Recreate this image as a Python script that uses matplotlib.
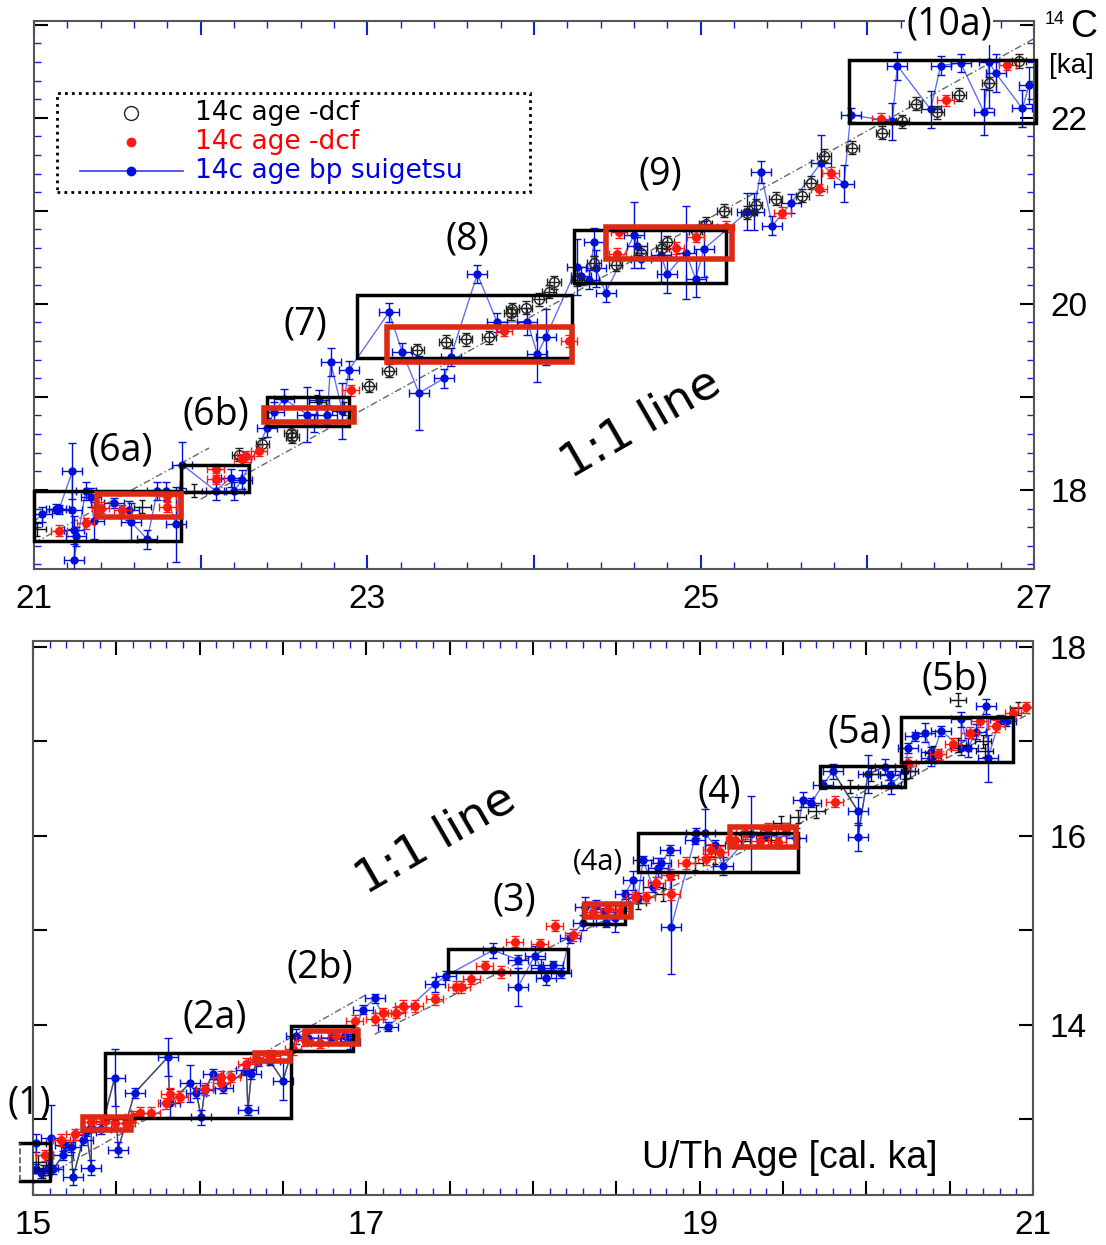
import matplotlib
matplotlib.use('Agg')
import matplotlib.pyplot as plt
from matplotlib.patches import Rectangle
from matplotlib.lines import Line2D
from matplotlib.ticker import MultipleLocator, FuncFormatter

plt.rcParams['font.family'] = ['Liberation Sans', 'DejaVu Sans']

# ---------------- top panel data (21-27 ka) ----------------
top_blue_x = [20.99, 21.05, 21.13, 21.15, 21.23, 21.23, 21.24, 21.25, 21.24, 21.31, 21.34, 21.36,
              21.48, 21.57, 21.58, 21.68, 21.74, 21.79, 21.85, 21.89, 22.09, 22.18, 22.20, 22.25,
              22.40, 22.44, 22.50, 22.64, 22.68, 22.71, 22.76, 22.78, 22.85, 22.89, 23.13, 23.21,
              23.31, 23.46, 23.50, 23.66, 23.78, 23.96, 24.02, 24.07, 24.26, 24.28, 24.33, 24.36,
              24.37, 24.43, 24.60, 24.62, 24.64, 24.76, 24.80, 24.91, 24.97, 25.02, 25.28, 25.32,
              25.36, 25.43, 25.54, 25.72, 25.86, 25.90, 26.15, 26.18, 26.38, 26.44, 26.56, 26.70,
              26.73, 26.77, 26.93, 26.97]
top_blue_y = [17.64, 17.74, 17.80, 17.79, 18.20, 17.78, 17.57, 17.50, 17.25, 17.99, 17.92, 17.67,
              17.86, 17.78, 17.66, 17.47, 17.99, 17.99, 17.63, 18.27, 17.99, 18.13, 17.99, 18.11,
              18.67, 18.84, 18.98, 18.81, 18.72, 18.97, 18.81, 19.37, 18.85, 19.29, 19.91, 19.48,
              19.04, 19.20, 19.43, 20.32, 19.80, 19.81, 19.46, 19.64, 20.40, 20.30, 20.26, 20.66,
              20.38, 20.12, 20.74, 20.62, 20.48, 20.53, 20.32, 20.55, 20.27, 20.59, 20.99, 20.99,
              21.42, 20.84, 21.08, 21.51, 21.29, 22.03, 21.96, 22.56, 22.09, 22.56, 22.59, 22.06,
              22.60, 22.48, 22.10, 22.35]
top_blue_yerr = [0.05, 0.08, 0.05, 0.05, 0.30, 0.20, 0.15, 0.10, 0.20, 0.10, 0.10, 0.20,
                 0.05, 0.10, 0.20, 0.10, 0.10, 0.10, 0.40, 0.25, 0.10, 0.10, 0.10, 0.10,
                 0.10, 0.10, 0.10, 0.30, 0.10, 0.10, 0.10, 0.15, 0.30, 0.10, 0.10, 0.10,
                 0.40, 0.10, 0.10, 0.10, 0.10, 0.15, 0.30, 0.30, 0.30, 0.10, 0.10, 0.15,
                 0.20, 0.10, 0.35, 0.10, 0.10, 0.30, 0.20, 0.50, 0.20, 0.30, 0.20, 0.20,
                 0.12, 0.10, 0.10, 0.30, 0.20, 0.08, 0.20, 0.15, 0.20, 0.10, 0.10, 0.25,
                 0.50, 0.20, 0.20, 0.20]

top_open_x = [22.23, 22.37, 22.54, 22.55, 23.01, 23.13, 23.30, 23.47, 23.59, 23.73, 23.86, 23.87,
              23.95, 24.03, 24.09, 24.12, 24.26, 24.36, 24.49, 24.64, 24.77, 24.80, 24.97, 25.03,
              25.14, 25.28, 25.33, 25.45, 25.61, 25.66, 25.74, 25.91, 26.09, 26.21, 26.29, 26.42,
              26.55, 26.73, 26.91]
top_open_y = [18.38, 18.49, 18.61, 18.57, 19.12, 19.28, 19.50, 19.59, 19.62, 19.64, 19.90, 19.94,
              19.96, 20.05, 20.13, 20.23, 20.26, 20.44, 20.42, 20.55, 20.60, 20.66, 20.78, 20.86,
              21.00, 20.98, 21.06, 21.13, 21.16, 21.30, 21.59, 21.68, 21.84, 21.96, 22.15, 22.06,
              22.25, 22.37, 22.61]
top_cross_x = [21.02, 21.65, 21.96, 22.70, 22.86]
top_cross_y = [17.58, 17.82, 17.99, 18.95, 18.87]

top_red_x = [21.15, 21.31, 21.40, 21.53, 21.80, 21.80, 22.09, 22.09, 22.25, 22.27, 22.35, 22.90,
             23.82, 24.21, 24.50, 24.51, 24.85, 24.97, 25.15, 25.49, 25.71, 25.78, 26.08, 26.47,
             26.84]
top_red_y = [17.56, 17.64, 17.81, 17.78, 17.82, 17.93, 18.22, 18.12, 18.33, 18.36, 18.42, 19.07,
             19.71, 19.60, 20.54, 20.77, 20.60, 20.72, 20.83, 20.98, 21.23, 21.41, 21.99, 22.19,
             22.57]

# boxes: (x0, x1, y0, y1)
top_black_boxes = [(21.00, 21.88, 17.45, 17.99), (21.88, 22.29, 17.98, 18.27),
                   (22.40, 22.89, 18.69, 19.00), (22.94, 24.23, 19.42, 20.09),
                   (24.24, 25.15, 20.22, 20.79), (25.89, 27.01, 21.94, 22.62)]
top_red_boxes = [(21.38, 21.88, 17.71, 17.96), (22.38, 22.92, 18.73, 18.88),
                 (23.12, 24.23, 19.38, 19.75), (24.43, 25.19, 20.48, 20.83)]
top_lines = [((21.00, 22.05), (17.43, 18.45)), ((22.00, 27.00), (17.90, 22.85))]
top_labels = ['(6a)', '(6b)', '(7)', '(8)', '(9)', '(10a)']
top_label_xy = [(21.52, 18.42), (22.09, 18.81), (22.63, 19.78), (23.60, 20.69), (24.76, 21.39),
                (26.49, 23.00)]

# ---------------- bottom panel data (15-21 ka) ----------------
bot_blue_x = [15.02, 15.02, 15.05, 15.09, 15.11, 15.12, 15.18, 15.19, 15.23, 15.24, 15.30, 15.32,
              15.35, 15.35, 15.41, 15.49, 15.51, 15.61, 15.81, 15.82, 15.94, 15.98, 16.01, 16.03,
              16.08, 16.14, 16.28, 16.29, 16.31, 16.35, 16.42, 16.50, 16.58, 16.65, 16.79, 16.87,
              16.90, 16.98, 17.05, 17.13, 17.41, 17.48, 17.76, 17.91, 17.91, 18.01, 18.05, 18.08,
              18.12, 18.17, 18.22, 18.30, 18.31, 18.38, 18.43, 18.44, 18.49, 18.55, 18.60, 18.63,
              18.66, 18.72, 18.75, 18.77, 18.82, 18.83, 18.97, 18.98, 19.03, 19.09, 19.14, 19.31,
              19.40, 19.58, 19.62, 19.67, 19.74, 19.80, 19.95, 19.95, 20.01, 20.11, 20.14, 20.15,
              20.23, 20.25, 20.29, 20.35, 20.39, 20.39, 20.45, 20.57, 20.57, 20.61, 20.66, 20.72,
              20.73, 20.80, 20.84]
bot_blue_y = [12.75, 12.48, 12.43, 12.49, 12.80, 12.47, 12.62, 12.73, 12.71, 12.39, 12.78, 12.87,
              12.49, 12.92, 12.90, 13.44, 12.68, 13.28, 13.66, 13.17, 13.38, 13.28, 13.02, 13.31,
              13.48, 13.33, 13.52, 13.10, 13.48, 13.61, 13.62, 13.41, 13.88, 13.86, 13.86, 13.88,
              13.82, 14.16, 14.28, 13.98, 14.43, 14.52, 14.79, 14.69, 14.40, 14.73, 14.60, 14.50,
              14.63, 14.55, 14.92, 15.08, 15.25, 15.27, 15.19, 15.08, 15.13, 15.38, 15.53, 15.34,
              15.74, 15.46, 15.66, 15.71, 15.85, 15.04, 15.96, 16.03, 16.03, 15.90, 15.68, 16.02,
              16.01, 15.98, 16.38, 16.35, 16.54, 16.68, 16.26, 15.99, 16.65, 16.73, 16.64, 16.54,
              16.68, 16.93, 17.05, 17.09, 16.89, 16.82, 17.11, 16.93, 17.23, 16.93, 17.10, 17.37,
              16.82, 17.23, 17.21]
bot_blue_yerr = [0.10, 0.05, 0.05, 0.08, 0.35, 0.05, 0.05, 0.05, 0.05, 0.08, 0.05, 0.05,
                 0.08, 0.05, 0.05, 0.30, 0.08, 0.05, 0.20, 0.15, 0.20, 0.05, 0.08, 0.05,
                 0.05, 0.05, 0.05, 0.05, 0.05, 0.05, 0.05, 0.20, 0.08, 0.05, 0.05, 0.05,
                 0.08, 0.05, 0.05, 0.05, 0.08, 0.05, 0.08, 0.05, 0.20, 0.10, 0.10, 0.08,
                 0.05, 0.05, 0.05, 0.08, 0.10, 0.05, 0.05, 0.05, 0.15, 0.05, 0.10, 0.05,
                 0.05, 0.05, 0.10, 0.05, 0.05, 0.50, 0.05, 0.05, 0.25, 0.05, 0.10, 0.40,
                 0.05, 0.10, 0.08, 0.05, 0.05, 0.08, 0.15, 0.15, 0.20, 0.08, 0.05, 0.10,
                 0.08, 0.05, 0.05, 0.10, 0.05, 0.08, 0.05, 0.08, 0.08, 0.10, 0.08, 0.08,
                 0.25, 0.05, 0.05]

bot_cross_x = [15.03, 15.06, 18.63, 18.78, 18.97, 19.09, 19.25, 19.43, 19.49, 19.59, 19.70, 19.90,
               20.03, 20.26, 20.40, 20.55, 20.55, 20.70, 20.71, 20.91]
bot_cross_y = [12.55, 12.45, 15.29, 15.38, 15.71, 15.77, 15.94, 15.96, 16.14, 16.20, 16.26, 16.52,
               16.65, 16.68, 16.88, 16.96, 17.44, 17.00, 16.90, 17.35]

bot_red_x = [15.07, 15.17, 15.25, 15.35, 15.43, 15.49, 15.56, 15.60, 15.64, 15.71, 15.80, 15.82,
             15.88, 16.03, 16.13, 16.13, 16.19, 16.28, 16.35, 16.43, 16.56, 16.63, 16.72, 16.82,
             16.93, 17.05, 17.10, 17.18, 17.22, 17.29, 17.41, 17.54, 17.57, 17.63, 17.71, 17.81,
             17.89, 18.04, 18.13, 18.24, 18.36, 18.45, 18.53, 18.61, 18.68, 18.74, 18.82, 18.83,
             18.92, 19.04, 19.07, 19.12, 19.21, 19.27, 19.36, 19.41, 19.47, 19.52, 19.81, 20.25,
             20.43, 20.52, 20.62, 20.68, 20.78, 20.88, 20.96]
bot_red_y = [12.62, 12.78, 12.84, 12.97, 12.98, 12.96, 12.96, 13.03, 13.07, 13.07, 13.17, 13.27,
             13.24, 13.32, 13.45, 13.38, 13.45, 13.59, 13.63, 13.67, 13.74, 13.84, 13.81, 13.88,
             14.04, 14.06, 14.12, 14.13, 14.20, 14.20, 14.27, 14.40, 14.40, 14.49, 14.62, 14.56,
             14.88, 14.85, 15.05, 14.95, 15.19, 15.22, 15.20, 15.35, 15.35, 15.50, 15.59, 15.38,
             15.71, 15.75, 15.85, 15.83, 15.96, 16.03, 15.94, 16.07, 15.93, 16.07, 16.36, 16.77,
             16.86, 16.97, 17.09, 17.21, 17.16, 17.30, 17.36]

bot_black_boxes = [(15.43, 16.55, 13.01, 13.70),
                   (16.55, 16.92, 13.72, 13.99), (17.49, 18.21, 14.56, 14.80),
                   (18.30, 18.55, 15.07, 15.28), (18.63, 19.59, 15.62, 16.03),
                   (19.72, 20.23, 16.52, 16.74), (20.21, 20.88, 16.78, 17.26)]
bot_open_box = (14.92, 15.10, 12.35, 12.75)   # box (1), left side dashed
bot_red_boxes = [(15.30, 15.59, 12.89, 13.03), (16.33, 16.54, 13.62, 13.70),
                 (16.63, 16.95, 13.80, 13.93), (18.31, 18.59, 15.14, 15.28),
                 (19.18, 19.58, 15.88, 16.09)]
bot_lines = [((15.00, 17.00), (12.32, 14.32)), ((17.05, 21.05), (13.90, 17.40)),
             ((20.04, 21.05), (16.40, 17.36))]
bot_labels = ['(1)', '(2a)', '(2b)', '(3)', '(4a)', '(4)', '(5a)', '(5b)']
bot_label_xy = [(14.98, 13.17), (16.09, 14.08), (16.72, 14.61), (17.89, 15.32), (18.39, 15.72),
                (19.12, 16.46), (19.96, 17.09), (20.53, 17.65)]

legend_labels = ['14c age -dcf', '14c age -dcf', '14c age bp suigetsu']

BLUE = '#0010d8'
RED = '#ff1a10'
BOXRED = '#dd2a14'
W, H = 1106, 1245
LABEL_FONT = ['Open Sans', 'DejaVu Sans']

fig = plt.figure(figsize=(W / 100, H / 100), dpi=100)


def px_rect(l, t, r, b):
    return [l / W, 1 - b / H, (r - l) / W, (b - t) / H]


def draw_panel(ax, bx, by, byerr, ox, oy, cx, cy, rx, ry, gray_ranges):
    # blue connected series
    ax.plot(bx, by, '-', color='#3040f0', lw=1.0, alpha=0.75, zorder=3)
    for lo, hi in gray_ranges:
        sx = [x for x in bx if lo <= x <= hi]
        sy = [y for x, y in zip(bx, by) if lo <= x <= hi]
        ax.plot(sx, sy, '-', color='#444444', lw=1.0, alpha=0.85, zorder=3)
    ax.errorbar(bx, by, xerr=0.06, yerr=byerr, fmt='o', ms=5, color=BLUE, ecolor=BLUE,
                elinewidth=1, capsize=3, zorder=4)
    if ox:
        ax.errorbar(ox, oy, xerr=0.04, yerr=0.07, fmt='o', ms=7, mfc='none', mec='#222222',
                    ecolor='#222222', elinewidth=1, capsize=3, zorder=5)
    ax.errorbar(cx, cy, xerr=0.05, yerr=0.07, fmt='none', ecolor='#111111', elinewidth=1,
                capsize=2.5, zorder=5)
    ax.errorbar(rx, ry, xerr=0.05, yerr=0.06, fmt='o', ms=5.5, color=RED, ecolor=RED,
                elinewidth=1, capsize=3, zorder=5)


def draw_boxes(ax, black, red):
    for x0, x1, y0, y1 in black:
        ax.add_patch(Rectangle((x0, y0), x1 - x0, y1 - y0, fill=False, ec='black', lw=2.5,
                               zorder=6, clip_on=False))
    for x0, x1, y0, y1 in red:
        ax.add_patch(Rectangle((x0, y0), x1 - x0, y1 - y0, fill=False, ec=BOXRED, lw=4,
                               zorder=6))


def style_axes(ax, xmaj, xmin, ymaj, ymin):
    for s in ax.spines.values():
        s.set_color('#555555')
        s.set_linewidth(1.5)
    ax.xaxis.set_major_locator(MultipleLocator(xmaj))
    ax.xaxis.set_minor_locator(MultipleLocator(xmin))
    ax.yaxis.set_major_locator(MultipleLocator(ymaj))
    if ymin:
        ax.yaxis.set_minor_locator(MultipleLocator(ymin))
    else:
        ax.yaxis.set_minor_locator(plt.NullLocator())

    def xfmt(v, p):
        r = round(v)
        if abs(v - r) < 1e-6 and r % 2 == 1:
            return '%d' % r
        return ''

    def yfmt(v, p):
        r = round(v)
        if abs(v - r) < 1e-6 and r % 2 == 0:
            return '%d' % r
        return ''
    ax.xaxis.set_major_formatter(FuncFormatter(xfmt))
    ax.yaxis.set_major_formatter(FuncFormatter(yfmt))
    ax.tick_params(axis='x', which='both', direction='in', top=True, bottom=True,
                   colors='#1020e0', labelcolor='black', labelsize=24, pad=11)
    ax.tick_params(axis='x', which='major', length=10, width=1.5)
    ax.tick_params(axis='x', which='minor', length=5, width=1)
    ax.tick_params(axis='y', which='both', direction='in', left=True, right=True,
                   labelleft=False, labelright=True, labelsize=24, pad=12)
    ax.tick_params(axis='y', which='major', length=10, width=1.5, color='black')
    ax.tick_params(axis='y', which='minor', length=5, width=1, color='#1020e0')


# ---------------- top panel ----------------
ax1 = fig.add_axes(px_rect(34, 21, 1034, 569))
ax1.set_xlim(21, 27)
ax1.set_ylim(17.15, 23.04)
for (lx, ly) in top_lines:
    ax1.plot(lx, ly, '--', color='#666666', lw=1.0, dashes=(5, 2, 1, 2), zorder=2)
draw_panel(ax1, top_blue_x, top_blue_y, top_blue_yerr, top_open_x, top_open_y,
           top_cross_x, top_cross_y, top_red_x, top_red_y, [])
draw_boxes(ax1, top_black_boxes, top_red_boxes)
style_axes(ax1, 1, 0.2, 1, 0.2)
for lab, (lx, ly) in zip(top_labels, top_label_xy):
    kw = {}
    if lab == '(10a)':
        kw['bbox'] = dict(fc='white', ec='none', pad=1)
    ax1.text(lx, ly, lab, fontsize=27, family=LABEL_FONT, ha='center',
             va='center', zorder=8, clip_on=False, **kw)
ax1.text(24.64, 18.71, '1:1 line', fontsize=34, rotation=30, ha='center', va='center',
         family=['DejaVu Sans'], zorder=7)

# legend drawn by hand with a dotted frame
leg_box = Rectangle((57 / W, 1 - 192 / H), (530 - 57) / W, (192 - 93) / H, fill=False,
                    ec='black', lw=2, ls=(0, (1, 1.5)), transform=fig.transFigure, zorder=9)
fig.add_artist(leg_box)
row_y = [113, 142, 171]
fig.add_artist(Line2D([131 / W], [1 - row_y[0] / H], marker='o', ms=10, mfc='white',
                      mec='#222222', transform=fig.transFigure))
fig.add_artist(Line2D([131 / W], [1 - row_y[1] / H], marker='o', ms=6, mfc=RED, mec=RED,
                      transform=fig.transFigure))
fig.add_artist(Line2D([80 / W, 183 / W], [1 - row_y[2] / H, 1 - row_y[2] / H], color='#3040f0',
                      lw=1.2, transform=fig.transFigure))
fig.add_artist(Line2D([131 / W], [1 - row_y[2] / H], marker='o', ms=6, mfc=BLUE, mec=BLUE,
                      transform=fig.transFigure))
for lab, ry, col in zip(legend_labels, row_y, ['black', '#ff0000', '#0000e0']):
    fig.text(195 / W, 1 - ry / H, lab, fontsize=19, color=col, va='center',
             family=['DejaVu Sans'])

fig.text(1045 / W, 1 - 19 / H, '14', fontsize=13, va='center')
fig.text(1070 / W, 1 - 27 / H, 'C', fontsize=27, va='center')
fig.text(1049 / W, 1 - 66 / H, '[ka]', fontsize=20, va='center')

# ---------------- bottom panel ----------------
ax2 = fig.add_axes(px_rect(33, 641, 1033, 1195))
ax2.set_xlim(15, 21)
ax2.set_ylim(12.2, 18.06)
for (lx, ly) in bot_lines:
    ax2.plot(lx, ly, '--', color='#666666', lw=1.0, dashes=(5, 2, 1, 2), zorder=2)
draw_panel(ax2, bot_blue_x, bot_blue_y, bot_blue_yerr, [], [], bot_cross_x, bot_cross_y,
           bot_red_x, bot_red_y, [(15.0, 16.6), (19.75, 20.2)])
draw_boxes(ax2, bot_black_boxes, bot_red_boxes)
x0, x1, y0, y1 = bot_open_box
ax2.plot([x0, x1, x1, x0], [y1, y1, y0, y0], '-', color='black', lw=2.5, zorder=6,
         clip_on=False)
ax2.plot([x0, x0], [y0, y1], '--', color='#555555', lw=1.2, zorder=6, clip_on=False)
style_axes(ax2, 0.5, 0.1, 1, None)
ax2.tick_params(axis='x', which='major', color='black')
for lab, (lx, ly) in zip(bot_labels, bot_label_xy):
    fs = 21 if lab == '(4a)' else 27
    ax2.text(lx, ly, lab, fontsize=fs, family=LABEL_FONT, ha='center',
             va='center', zorder=8, clip_on=False)
ax2.text(17.42, 15.96, '1:1 line', fontsize=34, rotation=30, ha='center', va='center',
         family=['DejaVu Sans'], zorder=7)
fig.text(790 / W, 1 - 1158 / H, 'U/Th Age [cal. ka]', fontsize=27, ha='center', va='center')

fig.savefig('out.png', dpi=100)
